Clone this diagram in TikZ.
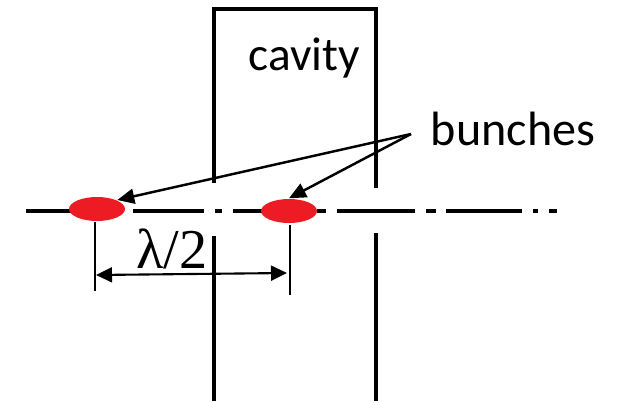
\documentclass[tikz,border=0pt]{standalone}
\usepackage{fontspec}
\setmainfont{Carlito}
\newfontfamily\lamfont{Liberation Serif}
\usetikzlibrary{shapes.geometric, arrows.meta}
\tikzset{
  wall/.style={line width=.95pt},
  beam/.style={line width=1pt},
  tick/.style={line width=.3pt},
  bunch/.style={ellipse,fill={rgb,255:red,237;green,28;blue,36},minimum width=.56cm,minimum height=.24cm,inner sep=0pt},
  pointer/.style={line width=.7pt,-{Triangle[length=.17cm,width=.15cm]}},
  span/.style={line width=.6pt,{Triangle[length=.16cm,width=.15cm]}-{Triangle[length=.16cm,width=.15cm]}}}
\begin{document}
\begin{tikzpicture}
	\useasboundingbox (0,0) rectangle (6.18,4.01);
	\coordinate (lb) at (2.14,0);
	\coordinate (lg) at (2.14,2.18);
	\coordinate (lh) at (2.14,1.65);
	\coordinate (lt) at (2.14,3.92);
	\coordinate (rt) at (3.76,3.92);
	\coordinate (rg) at (3.76,2.13);
	\coordinate (rh) at (3.76,1.68);
	\coordinate (rb) at (3.76,0);
	\coordinate (apex) at (4.11,2.67);
\draw [wall] (lg) -- (lt) -- (rt) -- (rg);\draw [wall] (lh) -- (lb);\draw [wall] (rh) -- (rb);
\foreach \xa/\xb in {.26/.8,1.33/2.04,2.15/2.22,2.33/2.7,3.17/3.26,3.37/4.15,4.26/4.36,4.46/5.22,5.33/5.38,5.49/5.57}
	\draw [beam] (\xa,1.9) -- (\xb,1.9);
\node [bunch] (b1) at (.97,1.92) {};
\node [bunch] (b2) at (2.89,1.9) {};
\coordinate (f1) at (.95,1.1);
\coordinate (f2) at (2.9,1.06);
\coordinate (s1) at (.96,1.26);
\coordinate (s2) at (2.87,1.28);
\draw [tick] (b1.south -| f1) -- (f1);\draw [tick] (2.9,1.76) -- (f2);
\draw [span] (s1) -- (s2);
\draw [pointer] (apex) -- (b1.north east);
\draw [pointer] (apex) -- (b2.north);
\node (cavity) at (3.04,3.43) {\fontsize{13.5}{13.5}\selectfont cavity};
\node (bunches) at (5.13,2.72) {\fontsize{13.7}{13.7}\selectfont bunches};
\node (lambda) at (1.72,1.52) {\fontsize{16}{16}\selectfont\lamfont λ/2};
\end{tikzpicture}
\end{document}
